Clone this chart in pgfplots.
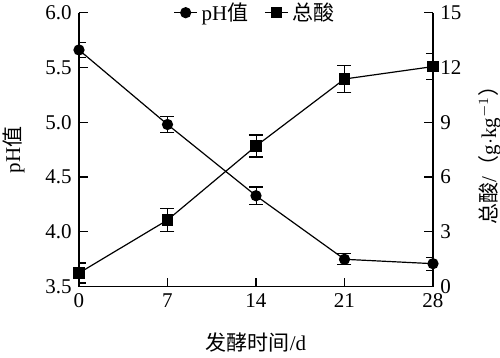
\documentclass[border=0pt]{standalone}
\usepackage{fontspec}
\setmainfont{Liberation Serif}
\newfontfamily\cjk{Noto Sans CJK SC}
\usepackage{pgfplots}
\pgfplotsset{compat=1.18}
\begin{document}
\begin{tikzpicture}[font=\fontsize{10.5}{12}\selectfont]
\pgfplotsset{
  every axis/.append style={
    scale only axis, width=177pt, height=137pt,
    xmin=0, xmax=28,
    tick align=inside, major tick length=4.5pt,
    /pgf/number format/assume math mode=true,
    line width=0.6pt,
    tick style={line width=0.6pt, black},
  },
}
\begin{axis}[
  axis y line*=left, axis x line*=bottom,
  axis line style={-},
  ymin=3.5, ymax=6.0,
  ytick={3.5,4.0,4.5,5.0,5.5,6.0},
  yticklabel style={/pgf/number format/.cd, fixed, fixed zerofill, precision=1},
  xtick={0,7,14,21,28},
  xlabel={{\cjk 发酵时间}/d},
  xlabel style={yshift=-5.5pt},
  ylabel={pH{\cjk 值}},
  ylabel style={yshift=3.5pt},
  legend style={draw=none, fill=none, at={(0.5,1)}, anchor=center, legend columns=2,
    /tikz/every even column/.append style={column sep=6pt}},
  legend cell align=left,
  legend image code/.code={\draw[mark repeat=2,mark phase=2] plot coordinates {(0cm,0cm) (0.2cm,0cm) (0.4cm,0cm)};},
]
\addplot[black, line width=0.6pt, mark=*, mark size=2.5pt,
  error bars/.cd, y dir=both, y explicit, error mark options={rotate=90, mark size=3.5pt, line width=0.6pt}]
  coordinates {
  (0,5.66) +- (0,0.07)
  (7,4.98) +- (0,0.07)
  (14,4.33) +- (0,0.08)
  (21,3.75) +- (0,0.05)
  (28,3.71) +- (0,0.06)
};
\addlegendentry{pH{\cjk 值}}
\addlegendimage{black, line width=0.6pt, mark=square*, mark size=2.5pt}
\addlegendentry{\cjk 总酸}
\coordinate (O) at (rel axis cs:0,0);
\end{axis}
\begin{axis}[
  axis y line*=right, axis x line=none,
  axis line style={-},
  ymin=0, ymax=15,
  ytick={0,3,6,9,12,15},
  ylabel={{\cjk 总酸}/{\cjk （}g$\cdot$kg$^{-1}${\cjk ）}},
  ylabel style={yshift=-1.5pt},
]
\addplot[black, line width=0.6pt, mark=square*, mark size=2.5pt,
  error bars/.cd, y dir=both, y explicit, error mark options={rotate=90, mark size=3.5pt, line width=0.6pt}]
  coordinates {
  (0,0.75) +- (0,0.55)
  (7,3.65) +- (0,0.62)
  (14,7.7) +- (0,0.6)
  (21,11.37) +- (0,0.72)
  (28,12.05) +- (0,0.72)
};
\end{axis}
\pgfresetboundingbox
\path (O) ++(-39.5pt,-35.65pt) rectangle ++(250pt,179pt);
\end{tikzpicture}
\end{document}
